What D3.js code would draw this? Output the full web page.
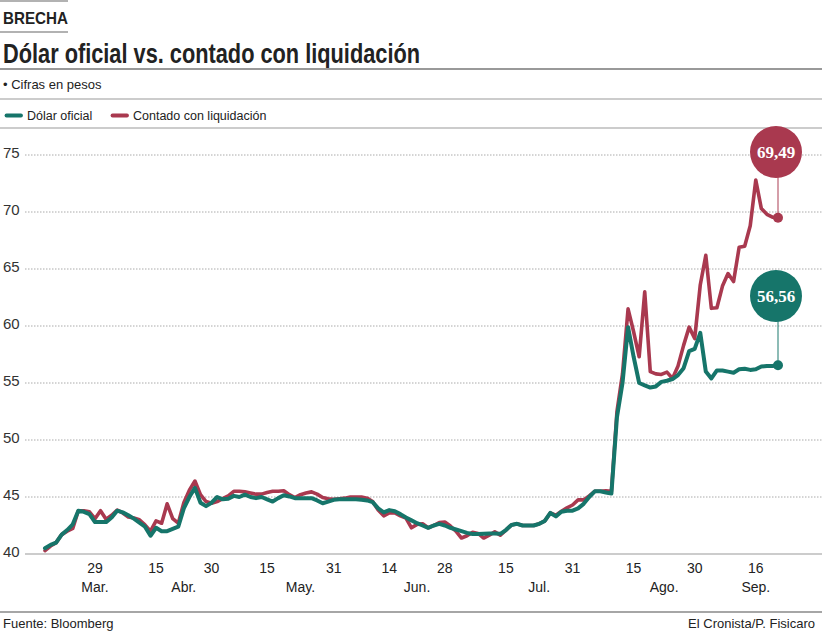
<!DOCTYPE html>
<html>
<head>
<meta charset="utf-8">
<script src="https://cdnjs.cloudflare.com/ajax/libs/d3/7.8.5/d3.min.js"></script>
<style>
    body { margin: 0; background: #fff; }
    svg { display: block; }
    text { font-family: "Liberation Sans", Arial, sans-serif; fill: #222; }
    .title { font-family: "Liberation Sans Narrow", "Liberation Sans", sans-serif; font-weight: bold; }
    .grid line { stroke: #aaa; stroke-width: 1; stroke-dasharray: 1.5, 1.5; }
    .line-path { fill: none; stroke-linejoin: round; stroke-linecap: round; }
</style>
</head>
<body>
<svg id="chart" width="822" height="631"></svg>
<script>
// dias habiles (dd/mm, 2019)
const fechas = [
    "18/03","19/03","20/03","21/03","22/03","25/03","26/03","27/03","28/03","29/03",
    "01/04","02/04","03/04","04/04","05/04","08/04","09/04","10/04","11/04","12/04",
    "15/04","16/04","17/04","18/04","22/04","23/04","24/04","25/04","26/04","29/04",
    "30/04","02/05","03/05","06/05","07/05","08/05","09/05","10/05","13/05","14/05",
    "15/05","16/05","17/05","20/05","21/05","22/05","23/05","24/05","27/05","28/05",
    "29/05","30/05","31/05","03/06","04/06","05/06","06/06","07/06","10/06","11/06",
    "12/06","13/06","14/06","17/06","18/06","19/06","20/06","21/06","24/06","25/06",
    "26/06","27/06","28/06","01/07","02/07","03/07","04/07","05/07","08/07","09/07",
    "10/07","11/07","12/07","15/07","16/07","17/07","18/07","19/07","22/07","23/07",
    "24/07","25/07","26/07","29/07","30/07","31/07","01/08","02/08","05/08","06/08",
    "07/08","08/08","09/08","12/08","13/08","14/08","15/08","16/08","19/08","20/08",
    "21/08","22/08","23/08","26/08","27/08","28/08","29/08","30/08","02/09","03/09",
    "04/09","05/09","06/09","09/09","10/09","11/09","12/09","13/09","16/09","17/09",
    "18/09","19/09","20/09"
];

const oficial = [
    40.5, 40.8, 41.0, 41.7, 42.1, 42.6, 43.8, 43.7, 43.5, 42.8,
    42.8, 42.8, 43.2, 43.8, 43.65, 43.4, 43.1, 42.75, 42.4, 41.6,
    42.3, 42.0, 42.0, 42.2, 42.4, 44.0, 45.0, 45.8, 44.5, 44.2,
    44.5, 45.0, 44.8, 44.85, 45.1, 45.0, 45.2, 45.0, 44.9, 45.0,
    44.8, 44.6, 44.9, 45.15, 45.05, 44.9, 44.9, 44.9, 44.9, 44.7,
    44.45, 44.6, 44.75, 44.8, 44.8, 44.8, 44.8, 44.75, 44.7, 44.55,
    44.0, 43.65, 43.85, 43.75, 43.5, 43.2, 42.95, 42.7, 42.5, 42.3,
    42.5, 42.65, 42.5, 42.3, 42.15, 42.0, 41.85, 41.75, 41.75, 41.77,
    41.8, 41.8, 41.77, 42.1, 42.55, 42.65, 42.5, 42.5, 42.5, 42.65,
    42.9, 43.6, 43.3, 43.7, 43.8, 43.8, 44.0, 44.4, 45.0, 45.5,
    45.5, 45.4, 45.3, 52.0, 55.0, 59.9, 57.3, 55.0, 54.8, 54.6,
    54.7, 55.1, 55.2, 55.35, 55.7, 56.3, 57.8, 58.0, 59.4, 56.0,
    55.4, 56.1, 56.1, 56.0, 55.9, 56.2, 56.25, 56.15, 56.2, 56.45,
    56.5, 56.5, 56.56
];

const ccl = [
    40.3, 40.7, 41.0, 41.7, 42.0, 42.25, 43.8, 43.8, 43.7, 43.1,
    43.8, 43.05, 43.4, 43.85, 43.6, 43.25, 43.15, 43.0, 42.55, 42.0,
    42.9, 42.7, 44.4, 43.1, 42.7, 44.5, 45.6, 46.4, 45.2, 44.6,
    44.45, 44.6, 44.85, 45.1, 45.5, 45.5, 45.45, 45.35, 45.25, 45.25,
    45.4, 45.5, 45.5, 45.55, 45.2, 44.95, 45.2, 45.35, 45.45, 45.25,
    44.95, 44.85, 44.8, 44.85, 44.9, 45.0, 45.0, 45.0, 44.9, 44.6,
    43.85, 43.35, 43.6, 43.6, 43.35, 43.15, 42.3, 42.6, 42.65, 42.3,
    42.5, 42.75, 42.8, 42.45, 42.0, 41.4, 41.6, 41.9, 41.8, 41.4,
    41.65, 41.95, 41.65, 42.1, 42.55, 42.65, 42.5, 42.5, 42.5, 42.65,
    42.9, 43.6, 43.4, 43.75, 44.05, 44.3, 44.75, 44.75, 45.1, 45.5,
    45.5, 45.55, 45.5, 52.5, 55.8, 61.5, 59.5, 57.3, 63.0, 56.0,
    55.8, 55.75, 55.95, 55.4, 56.5, 58.3, 59.9, 58.9, 63.6, 66.2,
    61.55, 61.6, 63.5, 64.6, 63.9, 66.9, 67.0, 68.8, 72.8, 70.3,
    69.8, 69.55, 69.49
];

const yTicks = [40, 45, 50, 55, 60, 65, 70, 75];
const tickFechas = ["29/03","15/04","30/04","15/05","31/05","14/06","28/06","15/07","31/07","15/08","30/08","16/09"];
const tickLabels = ["29","15","30","15","31","14","28","15","31","15","30","16"];
const meses = ["03","04","05","06","07","08","09"];
const mesLabels = ["Mar.","Abr.","May.","Jun.","Jul.","Ago.","Sep."];

const colorOficial = '#16756a';
const colorCcl = '#a9394f';

const svg = d3.select('svg');
const W = 822;

// encabezado
svg.append('line').attr('x1', 0).attr('x2', 68).attr('y1', 1).attr('y2', 1).attr('stroke', '#999').attr('stroke-width', 1.5);
svg.append('text').attr('x', 3).attr('y', 23.5).attr('font-weight', 'bold').attr('font-size', 17)
    .attr('textLength', 65).attr('lengthAdjust', 'spacingAndGlyphs').text('BRECHA');
svg.append('line').attr('x1', 0).attr('x2', 68).attr('y1', 32).attr('y2', 32).attr('stroke', '#999').attr('stroke-width', 1.5);
svg.append('text').attr('class', 'title').attr('x', 3).attr('y', 63).attr('font-size', 27)
    .attr('textLength', 417).attr('lengthAdjust', 'spacingAndGlyphs')
    .text('Dólar oficial vs. contado con liquidación');
svg.append('line').attr('x1', 0).attr('x2', W).attr('y1', 69).attr('y2', 69).attr('stroke', '#999').attr('stroke-width', 2);
svg.append('text').attr('x', 3).attr('y', 89).attr('font-size', 13).text('• Cifras en pesos');
svg.append('line').attr('x1', 0).attr('x2', W).attr('y1', 99).attr('y2', 99).attr('stroke', '#bbb').attr('stroke-width', 1.5);

// leyenda
const legend = [
    {label: 'Dólar oficial', color: colorOficial, x: 5},
    {label: 'Contado con liquidación', color: colorCcl, x: 111}
];
legend.forEach(function (d) {
    svg.append('line').attr('x1', d.x + 1.5).attr('x2', d.x + 16).attr('y1', 115.5).attr('y2', 115.5)
        .attr('stroke', d.color).attr('stroke-width', 3.8).attr('stroke-linecap', 'round');
    svg.append('text').attr('x', d.x + 22).attr('y', 120).attr('font-size', 12.5).text(d.label);
});
svg.append('line').attr('x1', 0).attr('x2', W).attr('y1', 128).attr('y2', 128).attr('stroke', '#bbb').attr('stroke-width', 1.5);

// escalas
const plotLeft = 25;
const xScale = d3.scalePoint()
    .domain(fechas)
    .range([45, 778]);
const yScale = d3.scaleLinear()
    .domain([40, 75])
    .range([554, 155]);

const grid = svg.append('g').attr('class', 'grid');
grid.selectAll('line')
    .data(yTicks.slice(1))
    .enter()
    .append('line')
    .attr('x1', plotLeft).attr('x2', W)
    .attr('y1', function (d) { return yScale(d); })
    .attr('y2', function (d) { return yScale(d); });

svg.append('line')
    .attr('x1', plotLeft).attr('x2', W)
    .attr('y1', yScale(40)).attr('y2', yScale(40))
    .attr('stroke', '#999').attr('stroke-width', 1.2);

svg.append('g').selectAll('text')
    .data(yTicks)
    .enter()
    .append('text')
    .attr('x', 3)
    .attr('y', function (d) { return yScale(d) + 3; })
    .attr('font-size', 15)
    .style('fill', '#333')
    .text(function (d) { return d; });

svg.append('g').selectAll('text')
    .data(tickFechas)
    .enter()
    .append('text')
    .attr('x', function (d) { return xScale(d); })
    .attr('y', 573)
    .attr('text-anchor', 'middle')
    .attr('font-size', 14)
    .text(function (d, i) { return tickLabels[i]; });

meses.forEach(function (m, i) {
    const xs = tickFechas.filter(function (f) { return f.slice(3) === m; })
        .map(function (f) { return xScale(f); });
    svg.append('text')
        .attr('x', d3.mean(xs))
        .attr('y', 592)
        .attr('text-anchor', 'middle')
        .attr('font-size', 14)
        .text(mesLabels[i]);
});

// lineas
const lineGenerator = function (values) {
    return d3.line()
        .x(function (d, i) { return xScale(fechas[i]); })
        .y(function (d) { return yScale(d); })(values);
};

svg.append('path').attr('class', 'line-path')
    .attr('d', lineGenerator(ccl))
    .attr('stroke', colorCcl).attr('stroke-width', 3.6);
svg.append('path').attr('class', 'line-path')
    .attr('d', lineGenerator(oficial))
    .attr('stroke', colorOficial).attr('stroke-width', 4);

// burbujas con el ultimo valor
const last = fechas.length - 1;
const bubbles = [
    {values: ccl, color: colorCcl, cy: 152},
    {values: oficial, color: colorOficial, cy: 296}
];
bubbles.forEach(function (b) {
    const cx = xScale(fechas[last]);
    const v = b.values[last];
    svg.append('line')
        .attr('x1', cx).attr('x2', cx)
        .attr('y1', b.cy + 25).attr('y2', yScale(v))
        .attr('stroke', b.color).attr('stroke-opacity', 0.65).attr('stroke-width', 1.5);
    svg.append('circle').attr('cx', cx).attr('cy', yScale(v)).attr('r', 5).attr('fill', b.color);
    svg.append('circle').attr('cx', cx - 2).attr('cy', b.cy).attr('r', 26).attr('fill', b.color);
    svg.append('text')
        .attr('x', cx - 2).attr('y', b.cy + 5.5)
        .attr('text-anchor', 'middle')
        .style('font-family', '"Liberation Serif", "DejaVu Serif", serif')
        .style('font-weight', 'bold')
        .attr('font-size', 17)
        .style('fill', '#fff')
        .text(d3.format('.2f')(v).replace('.', ','));
});

// pie
svg.append('line').attr('x1', 0).attr('x2', W).attr('y1', 612).attr('y2', 612).attr('stroke', '#888').attr('stroke-width', 1.5);
svg.append('text').attr('x', 3).attr('y', 628).attr('font-size', 13).text('Fuente: Bloomberg');
svg.append('text').attr('x', 815).attr('y', 628).attr('font-size', 13).attr('text-anchor', 'end').text('El Cronista/P. Fisicaro');
</script>
</body>
</html>
